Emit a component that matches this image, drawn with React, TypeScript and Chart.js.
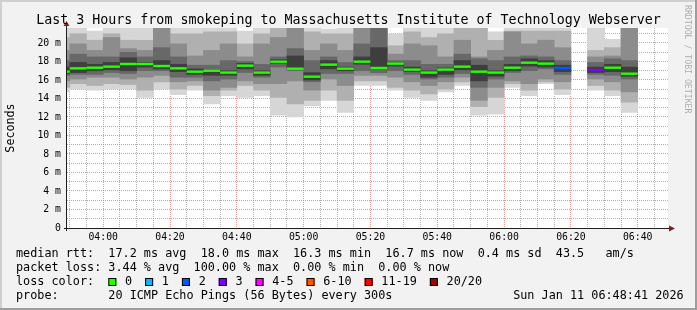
import React, { useEffect, useRef } from 'react';
import { Chart, registerables } from 'chart.js';

Chart.register(...registerables);

const TITLE = 'Last 3 Hours from smokeping to Massachusetts Institute of Technology Webserver';
const Y_AXIS_TITLE = 'Seconds';
const WATERMARK = 'RRDTOOL / TOBI OETIKER';

const VIEW_START = '03:49:10';
const VIEW_END = '06:49:04';
const Y_MAX_MS = 21.62;
const SLOT_MINUTES = 5;

const X_TICK_LABELS = ['04:00', '04:20', '04:40', '05:00', '05:20', '05:40', '06:00', '06:20', '06:40'];
const Y_TICK_LABELS = ['0', '2 m', '4 m', '6 m', '8 m', '10 m', '12 m', '14 m', '16 m', '18 m', '20 m'];

const SLOT_STARTS = [
  '03:45', '03:50', '03:55', '04:00', '04:05', '04:10', '04:15', '04:20', '04:25', '04:30', '04:35', '04:40',
  '04:45', '04:50', '04:55', '05:00', '05:05', '05:10', '05:15', '05:20', '05:25', '05:30', '05:35', '05:40',
  '05:45', '05:50', '05:55', '06:00', '06:05', '06:10', '06:15', '06:20', '06:25', '06:30', '06:35',
];

const MEDIAN_MS = [
  16.9, 17.26, 17.33, 17.44, 17.73, 17.73, 17.51, 17.26, 16.9, 17.0, 16.8, 17.55,
  16.8, 17.98, 17.22, 16.36, 17.66, 17.22, 17.98, 17.3, 17.77, 17.12, 16.8, 17.12,
  17.44, 16.9, 16.8, 17.33, 17.87, 17.77, 17.3, null, 17.08, 17.33, 16.68,
];

const LOST_PINGS = [
  0, 0, 0, 0, 0, 0, 0, 0, 0, 0, 0, 0,
  0, 0, 0, 0, 0, 0, 0, 0, 0, 0, 0, 0,
  0, 0, 0, 0, 0, 0, 2, 20, 3, 0, 0,
];

// smoke layers: outermost (lightest) to innermost (darkest)
const SMOKE1_LO = [14.7, 15.0, 14.9, 15.0, 15.0, 14.1, 15.0, 14.4, 14.9, 13.4, 14.3, 14.1, 14.3, 12.2, 12.0, 13.2, 13.8, 12.5, 15.4, 15.4, 14.9, 14.1, 13.8, 14.7, 15.4, 12.2, 12.3, 15.2, 14.3, 15.6, 14.4, null, 14.9, 14.3, 12.5];
const SMOKE1_HI = [22.5, 22.5, 21.3, 22.5, 22.5, 22.5, 22.5, 22.5, 22.5, 22.5, 22.5, 21.3, 22.5, 22.5, 22.5, 22.5, 21.5, 22.5, 22.5, 22.5, 21.0, 22.5, 22.5, 22.5, 22.5, 22.5, 21.2, 22.5, 21.6, 22.5, 21.8, null, 22.5, 20.4, 22.5];
const SMOKE2_LO = [15.2, 15.6, 15.4, 15.6, 15.5, 14.9, 15.8, 15.0, 15.4, 14.3, 14.9, 15.4, 14.9, 14.1, 13.4, 13.8, 14.9, 13.8, 15.9, 15.9, 15.2, 14.9, 14.5, 15.0, 15.8, 13.1, 14.1, 15.6, 14.9, 15.8, 15.0, null, 15.4, 14.9, 13.6];
const SMOKE2_HI = [20.6, 21.0, 20.3, 21.0, 20.3, 20.3, 22.5, 21.0, 21.0, 21.2, 21.2, 19.9, 21.0, 22.5, 22.5, 21.2, 21.0, 21.0, 22.5, 22.5, 19.7, 21.2, 20.6, 21.0, 22.5, 22.5, 20.3, 21.3, 21.3, 21.3, 21.3, null, 19.2, 19.5, 22.5];
const SMOKE3_LO = [15.9, 16.1, 16.3, 16.3, 16.1, 16.3, 16.5, 15.8, 15.9, 14.9, 15.2, 15.9, 15.6, 15.6, 15.9, 14.9, 16.1, 15.4, 16.5, 16.5, 16.3, 15.8, 15.4, 15.8, 16.3, 13.8, 15.2, 15.9, 15.6, 16.1, 15.8, null, 16.1, 15.8, 14.7];
const SMOKE3_HI = [19.2, 19.9, 19.2, 20.6, 19.4, 19.2, 22.0, 19.9, 18.6, 19.2, 19.9, 18.5, 19.9, 20.6, 22.0, 19.2, 19.9, 19.2, 22.5, 22.5, 18.8, 19.9, 19.7, 18.5, 20.3, 18.5, 19.2, 21.2, 19.9, 20.3, 19.5, null, 18.5, 18.6, 22.5];
const SMOKE4_LO = [16.5, 16.6, 16.6, 16.8, 16.7, 17.0, 17.0, 16.3, 16.3, 15.9, 16.1, 16.8, 16.3, 17.4, 17.0, 15.8, 16.7, 16.7, 17.0, 16.8, 17.0, 16.6, 16.1, 16.3, 16.7, 15.2, 16.1, 16.8, 17.0, 17.2, 16.6, null, 16.6, 16.5, 16.1];
const SMOKE4_HI = [18.1, 18.8, 18.5, 18.5, 19.0, 18.5, 19.5, 18.5, 17.6, 17.6, 18.1, 18.0, 17.7, 18.5, 19.4, 18.1, 18.5, 17.9, 19.9, 22.5, 18.1, 18.1, 17.7, 17.7, 18.8, 18.3, 18.1, 18.5, 18.6, 18.5, 18.1, null, 17.9, 18.3, 18.1];
const SMOKE5_LO = [16.7, 16.8, 17.0, 17.1, 17.0, 17.4, 17.2, 16.9, 16.6, 16.5, 16.5, 17.2, 16.5, 17.8, 17.2, 16.0, 17.2, 17.0, 17.7, 17.2, 17.5, 16.9, 16.3, 16.6, 17.1, 15.9, 16.4, 17.0, 17.5, 17.4, 16.9, null, 16.8, 16.9, 16.4];
const SMOKE5_HI = [17.4, 17.9, 17.7, 17.9, 18.4, 17.9, 18.1, 17.7, 17.2, 17.1, 17.0, 17.8, 17.0, 18.2, 18.6, 16.8, 18.1, 17.4, 18.5, 19.5, 17.9, 17.4, 17.0, 17.3, 18.1, 17.6, 17.0, 17.7, 18.3, 18.1, 17.6, null, 17.4, 17.7, 17.4];

const LOSS_LABELS = ['0', '1', '2', '3', '4-5', '6-10', '11-19', '20/20'];
const LOSS_MIN_COUNT = [0, 1, 2, 3, 4, 6, 11, 20];
const LOSS_COLORS = ['#26ff00', '#00b8ff', '#0059ff', '#7e00ff', '#ff00ff', '#ff5500', '#ff0000', '#a10000'];

const STAT_LINES = [
  'median rtt:  17.2 ms avg  18.0 ms max  16.3 ms min  16.7 ms now  0.4 ms sd  43.5   am/s',
  'packet loss: 3.44 % avg  100.00 % max  0.00 % min  0.00 % now',
  'loss color:',
  'probe:       20 ICMP Echo Pings (56 Bytes) every 300s',
];
const STAMP = 'Sun Jan 11 06:48:41 2026';

const SMOKE_COLORS = ['#d6d6d6', '#b0b0b0', '#8c8c8c', '#686868', '#3e3e3e'];
const GRID_COLOR = 'rgba(143,143,143,0.7)';
const MGRID_COLOR = 'rgba(222,79,79,0.6)';
const MONO = '"DejaVu Sans Mono", monospace';

const toMin = (t: string) => {
  const [h, m, s] = t.split(':').map(Number);
  return (h - 4) * 60 + m + (s || 0) / 60;
};

const lossColor = (n: number) => {
  let k = 0;
  LOSS_MIN_COUNT.forEach((c, i) => { if (n >= c) k = i; });
  return LOSS_COLORS[k];
};

export default function App() {
  const ref = useRef<HTMLCanvasElement>(null);

  useEffect(() => {
    document.body.style.margin = '0';
    const canvas = ref.current;
    if (!canvas) return;
    const xMin = toMin(VIEW_START);
    const xMax = toMin(VIEW_END);
    const centers = SLOT_STARTS.map((s) => toMin(s) + SLOT_MINUTES / 2);

    const layer = (lo: (number | null)[], hi: (number | null)[]) =>
      centers
        .map((x, i) => (lo[i] == null || hi[i] == null ? null : { x, y: [lo[i], hi[i]] }))
        .filter(Boolean);

    const medPts: any[] = [];
    const medCols: string[] = [];
    centers.forEach((x, i) => {
      const m = MEDIAN_MS[i];
      if (m == null) return;
      medPts.push({ x, y: [m - 0.13, m + 0.13] });
      medCols.push(lossColor(LOST_PINGS[i]));
    });

    const barBase = {
      type: 'bar' as const,
      borderWidth: 0,
      barPercentage: 1,
      categoryPercentage: 1,
      grouped: false,
      inflateAmount: 0.3,
      clip: 0,
    };

    const smoke = [
      [SMOKE5_LO, SMOKE5_HI, SMOKE_COLORS[4]],
      [SMOKE4_LO, SMOKE4_HI, SMOKE_COLORS[3]],
      [SMOKE3_LO, SMOKE3_HI, SMOKE_COLORS[2]],
      [SMOKE2_LO, SMOKE2_HI, SMOKE_COLORS[1]],
      [SMOKE1_LO, SMOKE1_HI, SMOKE_COLORS[0]],
    ].map(([lo, hi, c]: any) => ({ ...barBase, data: layer(lo, hi), backgroundColor: c }));

    const xTicks: number[] = [];
    for (let v = Math.ceil(xMin / SLOT_MINUTES) * SLOT_MINUTES; v <= xMax; v += SLOT_MINUTES) xTicks.push(v);
    const yTicks: number[] = [];
    for (let v = 0; v <= Math.floor(Y_MAX_MS); v += 1) yTicks.push(v);

    const frame = {
      id: 'rrdFrame',
      beforeDraw(chart: any) {
        const { ctx, chartArea: a, width, height } = chart;
        ctx.save();
        ctx.fillStyle = '#f2f2f2';
        ctx.fillRect(0, 0, width, height);
        ctx.fillStyle = '#cfcfcf';
        ctx.fillRect(0, 0, width, 2);
        ctx.fillRect(0, 0, 2, height);
        ctx.fillStyle = '#9e9e9e';
        ctx.fillRect(0, height - 2, width, 2);
        ctx.fillRect(width - 2, 0, 2, height);
        ctx.fillStyle = '#ffffff';
        ctx.fillRect(a.left, a.top, a.right - a.left, a.bottom - a.top);
        ctx.restore();
      },
      afterDraw(chart: any) {
        const { ctx, chartArea: a, width } = chart;
        ctx.save();
        // axes
        ctx.strokeStyle = '#1f1f1f';
        ctx.lineWidth = 1;
        ctx.beginPath();
        ctx.moveTo(a.left - 0.5, a.bottom + 3);
        ctx.lineTo(a.left - 0.5, a.top - 3);
        ctx.moveTo(a.left - 3, a.bottom + 0.5);
        ctx.lineTo(a.right + 2, a.bottom + 0.5);
        ctx.stroke();
        ctx.fillStyle = '#801f1f';
        ctx.beginPath();
        ctx.moveTo(a.left - 0.5, a.top - 7);
        ctx.lineTo(a.left - 3.5, a.top - 2);
        ctx.lineTo(a.left + 2.5, a.top - 2);
        ctx.closePath();
        ctx.fill();
        ctx.beginPath();
        ctx.moveTo(a.right + 7, a.bottom + 0.5);
        ctx.lineTo(a.right + 1, a.bottom - 2.5);
        ctx.lineTo(a.right + 1, a.bottom + 3.5);
        ctx.closePath();
        ctx.fill();

        // title
        ctx.fillStyle = '#000';
        ctx.font = `13.3px ${MONO}`;
        ctx.textAlign = 'center';
        ctx.textBaseline = 'alphabetic';
        ctx.fillText(TITLE, width / 2, 24);

        // watermark
        ctx.save();
        ctx.translate(width - 10, 5);
        ctx.rotate(Math.PI / 2);
        ctx.font = `8.2px ${MONO}`;
        ctx.fillStyle = 'rgba(0,0,0,0.3)';
        ctx.textAlign = 'left';
        ctx.textBaseline = 'middle';
        ctx.fillText(WATERMARK, 0, 0);
        ctx.restore();

        // legend
        ctx.font = `11.8px ${MONO}`;
        ctx.textAlign = 'left';
        ctx.textBaseline = 'alphabetic';
        ctx.fillStyle = '#000';
        const cw = ctx.measureText('0').width;
        const x0 = 16;
        const base = [257, 271, 285, 299];
        STAT_LINES.forEach((line, i) => ctx.fillText(line, x0, base[i]));
        ctx.fillText(STAMP, x0 + 70 * cw, base[3]);

        let bx = x0 + 13 * cw;
        LOSS_LABELS.forEach((lbl, i) => {
          ctx.fillStyle = LOSS_COLORS[i];
          ctx.fillRect(bx, base[2] - 7, 8, 8);
          ctx.strokeStyle = '#000';
          ctx.strokeRect(bx + 0.5, base[2] - 6.5, 7, 7);
          ctx.fillStyle = '#000';
          const tx = bx + 16.7;
          ctx.fillText(lbl, tx, base[2]);
          bx = tx + ctx.measureText(lbl).width + 13;
        });
        ctx.restore();
      },
    };

    const chart = new Chart(canvas, {
      type: 'bar',
      data: {
        datasets: [
          { ...barBase, data: medPts, backgroundColor: medCols, inflateAmount: 0 } as any,
          ...(smoke as any[]),
        ],
      },
      options: {
        animation: false,
        responsive: false,
        devicePixelRatio: 1,
        layout: { padding: { left: 0, top: 28, right: 29, bottom: 62 } },
        plugins: { legend: { display: false }, tooltip: { enabled: false }, title: { display: false } },
        scales: {
          x: {
            type: 'linear',
            min: xMin,
            max: xMax,
            bounds: 'data',
            offset: false,
            z: 1,
            afterBuildTicks: (s: any) => { s.ticks = xTicks.map((value) => ({ value })); },
            afterFit: (s: any) => { s.height = 20; },
            grid: {
              offset: false,
              drawTicks: false,
              lineWidth: 1,
              color: (c: any) => (c.tick && c.tick.value % 20 === 0 ? MGRID_COLOR : GRID_COLOR),
            },
            border: { display: false, dash: [1, 1] },
            ticks: {
              autoSkip: false,
              maxRotation: 0,
              minRotation: 0,
              padding: 3.5,
              color: '#000',
              font: { family: MONO, size: 9.8 },
              callback: (v: any) => {
                const n = Math.round(Number(v));
                return n >= 0 && n % 20 === 0 ? X_TICK_LABELS[n / 20] ?? '' : '';
              },
            },
          },
          y: {
            type: 'linear',
            min: 0,
            max: Y_MAX_MS,
            bounds: 'data',
            z: 1,
            afterBuildTicks: (s: any) => { s.ticks = yTicks.map((value) => ({ value })); },
            afterFit: (s: any) => { s.width = 67; },
            grid: {
              drawTicks: false,
              lineWidth: 1,
              color: (c: any) => (c.tick && c.tick.value % 2 === 0 ? MGRID_COLOR : GRID_COLOR),
            },
            border: { display: false, dash: [1, 1] },
            title: {
              display: true,
              text: Y_AXIS_TITLE,
              color: '#000',
              font: { family: MONO, size: 11.7 },
              padding: { top: 4, bottom: 0 },
            },
            ticks: {
              autoSkip: false,
              padding: 6,
              color: '#000',
              font: { family: MONO, size: 9.8 },
              callback: (v: any) => {
                const n = Math.round(Number(v));
                return n % 2 === 0 ? Y_TICK_LABELS[n / 2] ?? '' : '';
              },
            },
          },
        },
      } as any,
      plugins: [frame],
    });

    return () => chart.destroy();
  }, []);

  return (
    <div style={{ width: 697, height: 310 }}>
      <canvas ref={ref} width={697} height={310} style={{ display: 'block' }} />
    </div>
  );
}
